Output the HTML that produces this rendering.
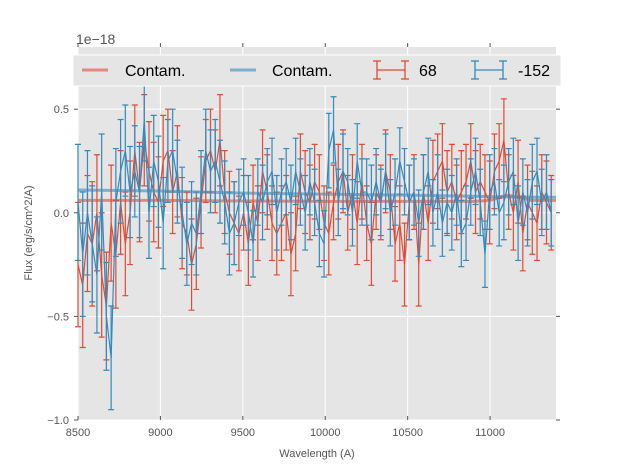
<!DOCTYPE html>
<html><head><meta charset="utf-8"><style>
body{margin:0;background:#fff;}
svg text{font-family:"Liberation Sans","DejaVu Sans",sans-serif;}
</style></head><body>
<svg id="c" width="617" height="467" xmlns="http://www.w3.org/2000/svg">
<rect x="78" y="47" width="478" height="373" fill="#e5e5e5"/>
<g id="grid"></g>
<g id="series"></g>
<g id="axes"></g>
<text x="76" y="44" font-size="14" fill="#555">1e−18</text>
<text x="317" y="457" font-size="11" fill="#555" text-anchor="middle">Wavelength (A)</text>
<text transform="translate(32,233) rotate(-90)" font-size="11" fill="#555" text-anchor="middle">Flux (erg/s/cm^2/A)</text>
<g>
<rect x="73" y="55" width="488" height="31" fill="#e5e5e5" stroke="#fff" stroke-width="1"/>
<g><line x1="82" y1="70" x2="108" y2="70" stroke="#e24a33" stroke-opacity="0.6" stroke-width="3"/><text x="125" y="76" font-size="16" fill="#000">Contam.</text></g>
<g><line x1="230" y1="70" x2="256" y2="70" stroke="#348abd" stroke-opacity="0.6" stroke-width="3"/><text x="272" y="76" font-size="16" fill="#000">Contam.</text></g>
<g stroke="#e24a33" stroke-width="1.3"><line x1="377" y1="70" x2="405" y2="70"/><line x1="377" y1="61" x2="377" y2="79"/><line x1="405" y1="61" x2="405" y2="79"/><line x1="373" y1="61" x2="381" y2="61"/><line x1="373" y1="79" x2="381" y2="79"/><line x1="401" y1="61" x2="409" y2="61"/><line x1="401" y1="79" x2="409" y2="79"/><text x="419" y="76" font-size="16" fill="#000" stroke="none">68</text></g>
<g stroke="#348abd" stroke-width="1.3"><line x1="475" y1="70" x2="503" y2="70"/><line x1="475" y1="61" x2="475" y2="79"/><line x1="503" y1="61" x2="503" y2="79"/><line x1="471" y1="61" x2="479" y2="61"/><line x1="471" y1="79" x2="479" y2="79"/><line x1="499" y1="61" x2="507" y2="61"/><line x1="499" y1="79" x2="507" y2="79"/><text x="518" y="76" font-size="16" fill="#000" stroke="none">-152</text></g>
</g>
</svg>
<script>
const xTicks=[8500,9000,9500,10000,10500,11000];
const yTicks=[-1.0,-0.5,0.0,0.5];
const yTickLabels=["−1.0","−0.5","0.0","0.5"];
const redFlux=[-0.25,-0.35,-0.1,-0.15,0.0,-0.3,-0.45,-0.05,-0.2,0.05,-0.15,0.0,0.3,0.1,0.35,0.2,0.1,
0.05,0.25,0.3,0.1,0.2,-0.05,-0.1,-0.25,-0.15,0.05,0.25,0.3,0.2,0.35,0.1,0.0,-0.05,
-0.1,0.0,-0.15,0.05,-0.05,0.2,0.1,-0.05,-0.1,-0.05,0.0,-0.2,-0.1,0.2,0.1,0.05,0.15,
0.1,-0.05,-0.1,0.05,0.15,0.2,0.0,0.1,-0.05,0.15,-0.05,-0.15,0.1,0.05,0.2,0.1,-0.15,
-0.05,-0.25,0.05,0.1,-0.25,0.1,-0.05,0.15,0.2,0.25,0.1,0.15,0.05,0.1,0.15,0.25,0.1,
0.15,0.1,0.05,0.2,0.25,0.35,0.1,0.0,0.15,-0.1,0.05,0.0,-0.05,0.1,0.05,0.0];
const blueFlux=[0.05,-0.2,0.0,-0.15,-0.3,0.1,-0.5,-0.7,0.05,0.2,0.3,0.1,0.2,0.1,0.45,0.0,0.25,
0.15,-0.05,0.25,0.3,0.15,0.0,-0.15,-0.05,-0.1,0.1,0.3,0.2,0.25,0.15,0.05,-0.1,-0.05,
0.05,0.1,0.0,-0.15,0.1,0.05,0.15,0.2,0.0,0.1,0.15,0.05,0.2,0.1,0.0,0.15,0.05,
-0.1,-0.15,0.3,0.4,0.05,0.2,0.15,0.0,0.25,0.1,0.1,0.05,0.15,0.05,0.2,0.0,0.1,
0.25,0.15,0.05,0.1,-0.05,0.1,0.2,0.0,0.1,-0.05,0.05,0.0,0.1,-0.1,-0.05,0.1,0.2,
0.05,-0.2,0.1,0.15,0.0,0.05,0.15,0.2,-0.05,0.1,0.0,0.15,0.2,0.05,0.1,0.0];
const redErr=[0.3,0.3,0.28,0.3,0.28,0.3,0.26,0.28,0.26,0.25,0.25,0.25,0.22,0.24,0.22,0.24,0.24,
0.22,0.22,0.2,0.2,0.22,0.22,0.2,0.22,0.22,0.22,0.2,0.2,0.2,0.22,0.2,0.2,0.2,
0.18,0.18,0.2,0.18,0.18,0.2,0.18,0.18,0.2,0.18,0.18,0.2,0.18,0.18,0.2,0.18,0.18,
0.18,0.18,0.2,0.18,0.18,0.2,0.18,0.18,0.2,0.18,0.18,0.2,0.18,0.18,0.2,0.18,0.18,
0.18,0.2,0.18,0.18,0.2,0.18,0.18,0.2,0.18,0.18,0.2,0.18,0.18,0.2,0.18,0.18,0.2,
0.18,0.18,0.2,0.18,0.18,0.2,0.18,0.18,0.2,0.18,0.18,0.2,0.18,0.18,0.2,0.18];
const blueErr=[0.28,0.3,0.3,0.28,0.28,0.28,0.26,0.25,0.26,0.25,0.22,0.22,0.22,0.22,0.2,0.22,0.22,
0.22,0.22,0.2,0.2,0.2,0.22,0.2,0.2,0.2,0.2,0.2,0.2,0.2,0.2,0.2,0.2,0.2,
0.16,0.16,0.18,0.16,0.16,0.18,0.16,0.16,0.18,0.16,0.16,0.18,0.16,0.16,0.18,0.16,0.16,
0.16,0.16,0.18,0.16,0.16,0.18,0.16,0.16,0.18,0.16,0.16,0.18,0.16,0.16,0.18,0.16,0.16,
0.16,0.16,0.18,0.16,0.16,0.18,0.16,0.16,0.18,0.16,0.16,0.18,0.16,0.16,0.18,0.16,0.16,
0.16,0.16,0.18,0.16,0.16,0.18,0.16,0.16,0.18,0.16,0.16,0.18,0.16,0.16,0.18,0.16];
const contamWl=[8500,9000,9500,10000,10500,10900,11000,11100,11150,11250,11400];
const redContam=[0.06,0.06,0.057,0.055,0.055,0.055,0.06,0.085,0.08,0.06,0.06];
const blueContam=[0.11,0.105,0.095,0.09,0.085,0.08,0.078,0.077,0.075,0.075,0.075];
const wlStart=8500, wlEnd=11371;

const X0=78,X1=556,XMIN=8500,XMAX=11400,Y0=420,Y1=47,YMIN=-1.0,YMAX=0.8;
const xs=v=>X0+(v-XMIN)/(XMAX-XMIN)*(X1-X0);
const ys=v=>Y0-(v-YMIN)/(YMAX-YMIN)*(Y0-Y1);
const NS="http://www.w3.org/2000/svg";
function mk(t,a,p){const e=document.createElementNS(NS,t);for(const k in a)e.setAttribute(k,a[k]);p.appendChild(e);return e;}
const grid=document.getElementById('grid'),axes=document.getElementById('axes'),ser=document.getElementById('series');
xTicks.forEach(t=>{const x=xs(t);
 const g=mk('line',{x1:x,x2:x,y1:Y1,y2:Y0,stroke:'#fff','stroke-width':1},grid);
 
 mk('line',{x1:x,x2:x,y1:Y0,y2:Y0-4,stroke:'#555'},axes);
 mk('line',{x1:x,x2:x,y1:Y1-4,y2:Y1,stroke:'#555'},axes);
 const l=mk('text',{x:x,y:Y0+16,'font-size':11,fill:'#555','text-anchor':'middle'},axes);l.textContent=t;
 });
yTicks.forEach((t,i)=>{const y=ys(t);
 const g=mk('line',{x1:X0,x2:X1,y1:y,y2:y,stroke:'#fff','stroke-width':1},grid);
 
 mk('line',{x1:X0-4,x2:X0,y1:y,y2:y,stroke:'#555'},axes);
 mk('line',{x1:X1,x2:X1+4,y1:y,y2:y,stroke:'#555'},axes);
 const l=mk('text',{x:X0-9,y:y+4,'font-size':11,fill:'#555','text-anchor':'end'},axes);l.textContent=yTickLabels[i];
 });
function contam(vals,col,name){const d=contamWl.map((w,i)=>(i?'L':'M')+xs(w)+','+ys(vals[i])).join(' ');
 const p=mk('path',{d:d,fill:'none',stroke:col,'stroke-opacity':0.6,'stroke-width':3},ser);
 }
function errSeries(vals,errs,col,name){const n=vals.length;const step=(wlEnd-wlStart)/(n-1);
 const g=mk('g',{stroke:col,'stroke-width':1.2,fill:'none'},ser);
 
 let d='';
 vals.forEach((v,i)=>{const x=xs(wlStart+i*step);const y=ys(v);d+=(i?'L':'M')+x+','+y;
  const a=ys(v+errs[i]),b=ys(v-errs[i]);
  const e=mk('path',{d:`M${x},${a}L${x},${b}M${x-3},${a}L${x+3},${a}M${x-3},${b}L${x+3},${b}`},g);
  });
 const l=mk('path',{d:d},g);}
contam(redContam,'#e24a33','red-contam-line');
contam(blueContam,'#348abd','blue-contam-line');
errSeries(redFlux,redErr,'#e24a33','series-68');
errSeries(blueFlux,blueErr,'#348abd','series-minus152');
</script>
</body></html>
